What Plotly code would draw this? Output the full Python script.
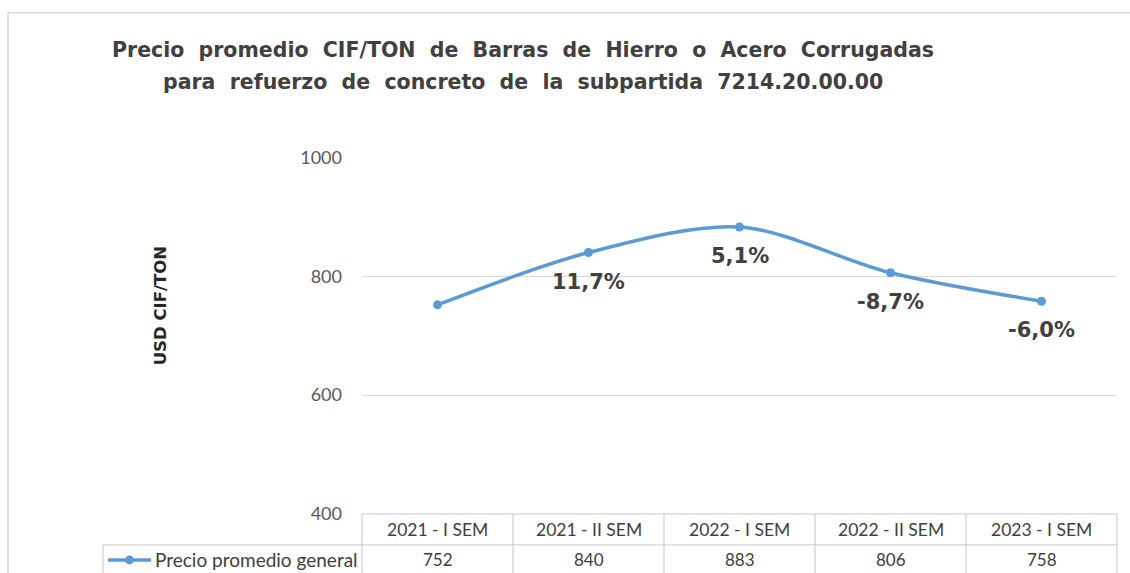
import plotly.graph_objects as go

W, H = 1130, 573
# measured capture mapping: vertical output = S * figure_px + C (page body margin removed)
S, C = 0.963, 10.3

categories = ["2021 - I SEM", "2021 - II SEM", "2022 - I SEM", "2022 - II SEM", "2023 - I SEM"]
prices = [752, 840, 883, 806, 758]
pct_labels = ["", "11,7%", "5,1%", "-8,7%", "-6,0%"]
y_ticks = [400, 600, 800, 1000]
series_name = "Precio promedio general"
title_lines = ["Precio promedio CIF/TON de Barras de Hierro o Acero Corrugadas",
               "para refuerzo de concreto de la subpartida 7214.20.00.00"]
y_title = "USD CIF/TON"

BLUE = "#5B9BD5"
DARK = "#404040"
GRID = "#D9D9D9"
TBL = "#C8C8C8"

# plot area in reference pixels
PL, PR, PT, PB = 362, 1117, 156, 513


def px(x):
    return x / W


def fy(y):
    return max((y - C) / S, 0.8)


def py(y):
    return 1 - fy(y) / H


fig = go.Figure()
fig.add_trace(go.Scatter(
    x=list(range(len(categories))), y=prices, mode="lines+markers",
    line=dict(color=BLUE, width=3.5, shape="spline", smoothing=0.9),
    marker=dict(color=BLUE, size=9), name=series_name, showlegend=False,
    hoverinfo="skip"))

shapes = []
# outer frame lines
shapes.append(dict(type="line", xref="paper", yref="paper", x0=px(8), x1=1, y0=py(8), y1=py(8),
                   line=dict(color=GRID, width=1.5)))
shapes.append(dict(type="line", xref="paper", yref="paper", x0=px(8), x1=px(8), y0=py(8), y1=-0.05,
                   line=dict(color=GRID, width=1.5)))

# table
col_w = (PR - PL) / len(categories)
row1_top, row_mid, row_bot = PB, 544, 600
shapes.append(dict(type="line", xref="paper", yref="paper", x0=px(PL), x1=px(PR), y0=py(row1_top), y1=py(row1_top),
                   line=dict(color=TBL, width=1)))
shapes.append(dict(type="line", xref="paper", yref="paper", x0=px(103), x1=px(PR), y0=py(row_mid), y1=py(row_mid),
                   line=dict(color=TBL, width=1)))
for i in range(len(categories) + 1):
    xx = PL + i * col_w
    shapes.append(dict(type="line", xref="paper", yref="paper", x0=px(xx), x1=px(xx), y0=py(row1_top), y1=py(row_bot),
                       line=dict(color=TBL, width=1)))
shapes.append(dict(type="line", xref="paper", yref="paper", x0=px(103), x1=px(103), y0=py(row_mid), y1=py(row_bot),
                   line=dict(color=TBL, width=1)))
# legend key in table
shapes.append(dict(type="line", xref="paper", yref="paper", x0=px(108), x1=px(151), y0=py(559), y1=py(559),
                   line=dict(color=BLUE, width=3.5)))
shapes.append(dict(type="circle", xref="paper", yref="paper", x0=px(125), x1=px(134), y0=py(554.5), y1=py(563.5),
                   fillcolor=BLUE, line=dict(width=0)))

SP = " &nbsp;"
annotations = []
for line, yy in zip(title_lines, [48, 80]):
    annotations.append(dict(text=line.replace(" ", SP), xref="paper", yref="paper",
                            x=px(523), y=py(yy), xanchor="center", yanchor="middle", showarrow=False,
                            font=dict(family="DejaVu Sans", size=20.5, color=DARK, weight="bold")))
annotations.append(dict(text=y_title, xref="paper", yref="paper", x=px(160), y=py(305), textangle=-90,
                        xanchor="center", yanchor="middle", showarrow=False,
                        font=dict(family="DejaVu Sans", size=16.5, color="#262626", weight="bold")))
for i, (lab, v) in enumerate(zip(pct_labels, prices)):
    if lab:
        annotations.append(dict(text=lab, x=i, y=v, xref="x", yref="y", yshift=-28 / S, showarrow=False,
                                xanchor="center", yanchor="middle",
                                font=dict(family="DejaVu Sans", size=21, color=DARK, weight="bold")))
for i, (c, v) in enumerate(zip(categories, prices)):
    annotations.append(dict(text=c, x=i, xref="x", yref="paper", y=py(528.5), showarrow=False,
                            xanchor="center", yanchor="middle", font=dict(family="Lato", size=17.5, color=DARK)))
    annotations.append(dict(text=str(v), x=i, xref="x", yref="paper", y=py(559), showarrow=False,
                            xanchor="center", yanchor="middle", font=dict(family="Lato", size=17, color=DARK)))
annotations.append(dict(text=series_name, xref="paper", yref="paper", x=px(153), y=py(559), showarrow=False,
                        xanchor="left", yanchor="middle", font=dict(family="Lato", size=19, color=DARK)))

fig.update_layout(
    width=W, height=H, margin=dict(l=0, r=0, t=0, b=0),
    paper_bgcolor="white", plot_bgcolor="white",
    xaxis=dict(domain=[px(PL), px(PR)], range=[-0.5, len(categories) - 0.5], showticklabels=False,
               showgrid=False, zeroline=False, showline=False, fixedrange=True),
    yaxis=dict(domain=[py(PB), py(PT)], range=[400, 1000], tickvals=y_ticks, showgrid=True, gridcolor=GRID,
               gridwidth=1, zeroline=False, showline=False, ticks="", ticklabelstandoff=19,
               tickfont=dict(family="Lato", size=18, color="#595959"), fixedrange=True),
    shapes=shapes, annotations=annotations, showlegend=False,
)

fig.write_html("out.html", config={"displayModeBar": False},
               post_script="document.body.style.margin='0';")
